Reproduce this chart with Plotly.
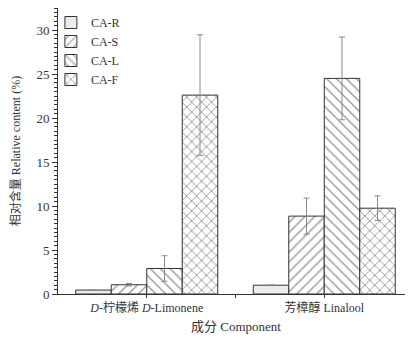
import plotly.graph_objects as go

categories = ["<i>D</i>-柠檬烯 <i>D</i>-Limonene", "芳樟醇 Linalool"]
series_names = ["CA-R", "CA-S", "CA-L", "CA-F"]
values = {
    "CA-R": [0.45, 1.0],
    "CA-S": [1.05, 8.85],
    "CA-L": [2.9, 24.5],
    "CA-F": [22.6, 9.75],
}
errors = {
    "CA-R": [0.0, 0.05],
    "CA-S": [0.15, 2.05],
    "CA-L": [1.45, 4.7],
    "CA-F": [6.85, 1.4],
}
y_ticks = [0, 5, 10, 15, 20, 25, 30]

patterns = {"CA-R": "", "CA-S": "/", "CA-L": "\\", "CA-F": "x"}
fills = {"CA-R": "#ececec", "CA-S": "white", "CA-L": "white", "CA-F": "white"}
solid = {"CA-R": 0.2, "CA-S": 0.2, "CA-L": 0.2, "CA-F": 0.25}

xpos = list(range(len(categories)))
fig = go.Figure()
for name in series_names:
    fig.add_trace(go.Bar(
        name=name, x=xpos, y=values[name],
        marker=dict(color=fills[name], line=dict(color="#333", width=1),
                    pattern=dict(shape=patterns[name], fgcolor="#333", bgcolor=fills[name],
                                 size=7, solidity=solid[name], fillmode="overlay")),
        error_y=dict(type="data", array=errors[name], color="#8a8a8a", thickness=1, width=3),
    ))

serif = "Liberation Serif, Noto Sans CJK SC, serif"
fig.update_layout(
    width=405, height=330,
    margin=dict(l=50, r=0, t=0, b=44),
    paper_bgcolor="white", plot_bgcolor="white",
    barmode="group", bargap=0.2, bargroupgap=0,
    font=dict(family=serif, size=12, color="#333"),
    showlegend=True,
    legend=dict(x=-0.02, y=1.0, xanchor="left", yanchor="top", bgcolor="rgba(0,0,0,0)",
                tracegroupgap=0, font=dict(size=12, family=serif), itemwidth=30),
    xaxis=dict(range=[-0.5, 1.5], tickmode="array", tickvals=xpos, ticktext=categories,
               showline=True, linecolor="#333", linewidth=1, ticks="outside", ticklen=3,
               tickcolor="#333", showgrid=False, zeroline=False, automargin=False,
               minor=dict(tickmode="array", tickvals=[0.5], ticks="outside", ticklen=3, tickcolor="#333"),
               tickfont=dict(size=12)),
    yaxis=dict(range=[0, 32.5], tickmode="array", tickvals=y_ticks,
               showline=True, linecolor="#333", linewidth=1, ticks="outside", ticklen=5,
               tickcolor="#333", showgrid=False, zeroline=False, automargin=False,
               minor=dict(dtick=0.5, ticks="outside", ticklen=3, tickcolor="#333"),
               title=dict(text="相对含量 Relative content (%)", font=dict(size=12), standoff=16),
               tickfont=dict(size=13)),
    annotations=[dict(text="成分 Component", xref="paper", yref="paper", x=0.5, y=0,
                      yshift=-32, xanchor="center", yanchor="middle", showarrow=False,
                      font=dict(size=13, family=serif, color="#333"))],
)
fig.write_html("out.html")
